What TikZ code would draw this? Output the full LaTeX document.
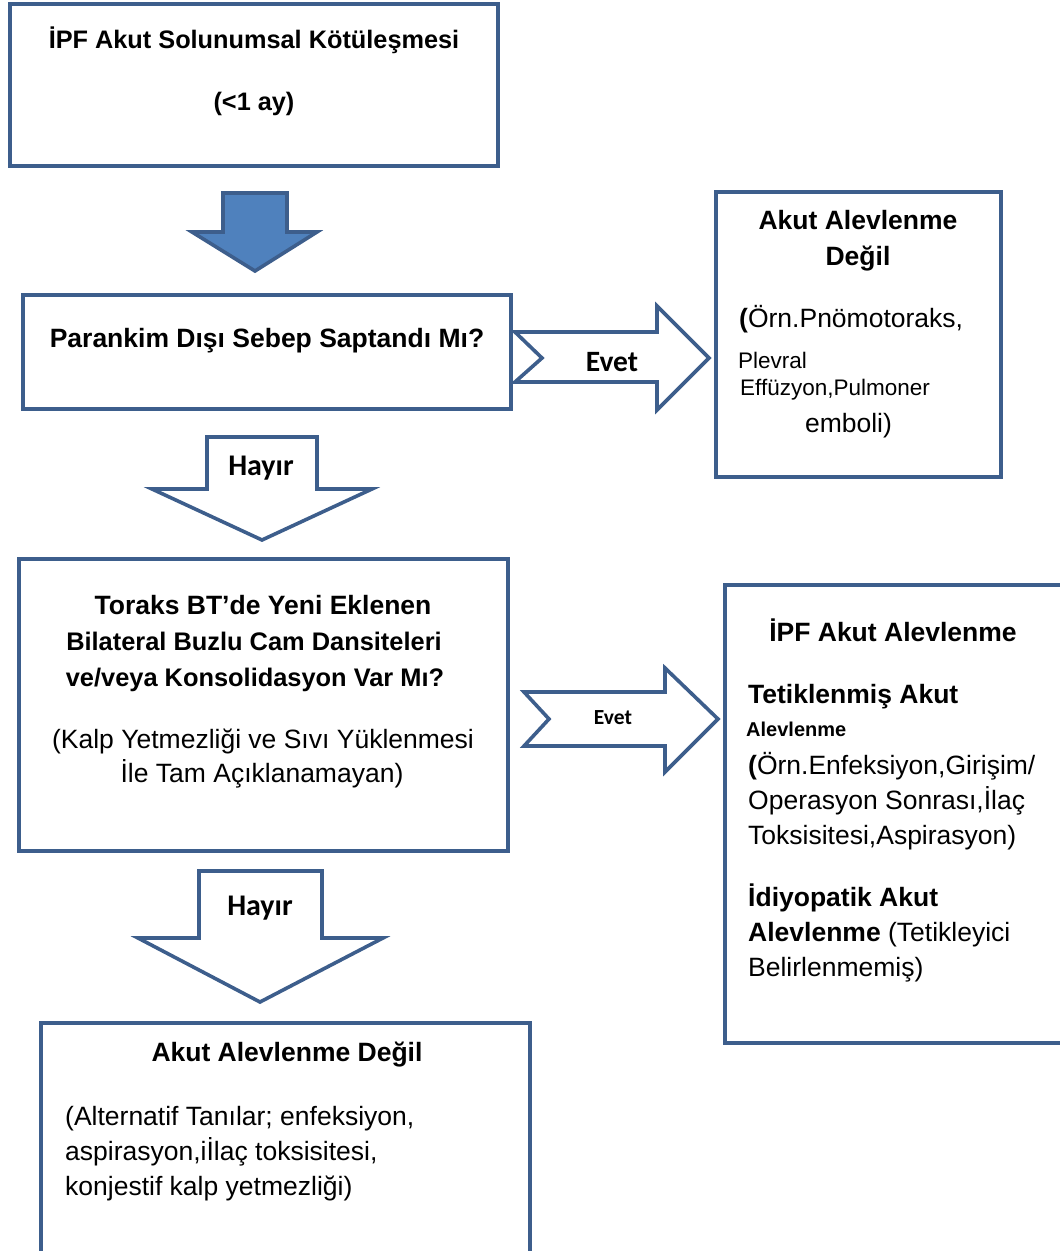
\documentclass[tikz,border=0pt]{standalone}
\usepackage{fontspec}
\setmainfont{Liberation Sans}
\newfontfamily\calib{Carlito}
\definecolor{bx}{RGB}{61,94,140}
\definecolor{afill}{RGB}{79,129,189}
\tikzset{
  box/.style={draw=bx, line width=4pt, minimum width=#1, inner sep=0pt},
  barrow/.style={draw=bx, line width=3.6pt, line join=miter, fill=white},
  bt/.style={font=\bfseries\fontsize{26.5}{32}\selectfont, inner sep=0pt, anchor=mid},
  bts/.style={font=\bfseries\fontsize{25.4}{30}\selectfont, inner sep=0pt, anchor=mid},
  rt/.style={font=\fontsize{26.5}{32}\selectfont, inner sep=0pt, anchor=mid},
  lbl/.style={font=\calib\bfseries\fontsize{#1}{#1}\selectfont, inner sep=0pt, anchor=mid},
}
\begin{document}
\begin{tikzpicture}[x=1pt,y=-1pt]
\useasboundingbox (0,0) rectangle (1060,1251);
% boxes
\node[box=488pt, minimum height=162pt] (b1) at (254,85) {};
\node[box=488pt, minimum height=114pt] (b2) at (267,352) {};
\node[box=285pt, minimum height=285pt] (b3) at (858.5,334.5) {};
\node[box=489pt, minimum height=292pt] (b4) at (263.5,705) {};
\node[box=350pt, minimum height=458pt] (b5) at (900,814) {};
\node[box=489pt, minimum height=237pt] (b6) at (285.5,1141.5) {};
% block arrows
\draw[barrow, fill=afill] (223,193) -- (287,193) -- (287,232) -- (317,232) -- (255,271) -- (192,232) -- (223,232) -- cycle;
\draw[barrow] (207,437) -- (317,437) -- (317,489) -- (372,489) -- (262,540) -- (152,489) -- (207,489) -- cycle;
\draw[barrow] (515,332) -- (657,332) -- (657,306) -- (709,358) -- (657,410) -- (657,382) -- (515,382) -- (542,358) -- cycle;
\draw[barrow] (524,692) -- (665,692) -- (665,668) -- (718,719) -- (665,772) -- (665,746) -- (524,746) -- (549,719) -- cycle;
\draw[barrow] (199,871) -- (322,871) -- (322,938) -- (383,938) -- (260,1002) -- (138,938) -- (199,938) -- cycle;
\begin{scope}[yshift=-6.5pt]
% arrow labels
\node[lbl=29.5] (e1) at (612,362) {Evet};
\node[lbl=30] (h1) at (261,466) {Hayır};
\node[lbl=21.5] (e2) at (613,715) {Evet};
\node[lbl=30] (h2) at (260,906) {Hayır};
% box 1
\node[bt, font=\bfseries\fontsize{25.3}{30}\selectfont] (t1a) at (254,39) {İPF Akut Solunumsal Kötüleşmesi};
\node[bt, font=\bfseries\fontsize{25.3}{30}\selectfont] (t1b) at (254,101) {(<1 ay)};
% box 2
\node[bt] (t2) at (267,338) {Parankim Dışı Sebep Saptandı Mı?};
% box 3
\node[bt] (t3a) at (858,220) {Akut Alevlenme};
\node[bt] (t3b) at (858,256) {Değil};
\node[rt, anchor=mid west] (t3c) at (739,318) {\textbf{(}Örn.Pnömotoraks,};
\node[rt, anchor=mid west, font=\fontsize{22.5}{27}\selectfont] (t3d) at (738,359) {Plevral};
\node[rt, anchor=mid west, font=\fontsize{22.5}{27}\selectfont] (t3e) at (740,386) {Effüzyon,Pulmoner};
\node[rt] (t3f) at (848.5,423) {emboli)};
% box 4
\node[bt] (t4a) at (263,605) {Toraks BT’de Yeni Eklenen};
\node[bts] (t4b) at (254,641) {Bilateral Buzlu Cam Dansiteleri};
\node[bts] (t4c) at (255,677) {ve/veya Konsolidasyon Var Mı?};
\node[rt] (t4d) at (263,739) {(Kalp Yetmezliği ve Sıvı Yüklenmesi};
\node[rt] (t4e) at (262,773) {İle Tam Açıklanamayan)};
% box 5
\node[bt] (t5a) at (893,632) {İPF Akut Alevlenme};
\node[bt, anchor=mid west] (t5b) at (748,694) {Tetiklenmiş Akut};
\node[bt, anchor=mid west, font=\bfseries\fontsize{20}{24}\selectfont] (t5c) at (746,727) {Alevlenme};
\node[rt, anchor=mid west] (t5d) at (748,765) {\textbf{(}Örn.Enfeksiyon,Girişim/};
\node[rt, anchor=mid west] (t5e) at (748,800) {Operasyon Sonrası,İlaç};
\node[rt, anchor=mid west] (t5f) at (748,835) {Toksisitesi,Aspirasyon)};
\node[bt, anchor=mid west] (t5g) at (748,897) {İdiyopatik Akut};
\node[rt, anchor=mid west] (t5h) at (748,932) {\textbf{Alevlenme} (Tetikleyici};
\node[rt, anchor=mid west] (t5i) at (748,967) {Belirlenmemiş)};
% box 6
\node[bt] (t6a) at (287,1052) {Akut Alevlenme Değil};
\node[rt, anchor=mid west] (t6b) at (65,1116) {(Alternatif Tanılar; enfeksiyon,};
\node[rt, anchor=mid west] (t6c) at (65,1151) {aspirasyon,iİlaç toksisitesi,};
\node[rt, anchor=mid west] (t6d) at (65,1186) {konjestif kalp yetmezliği)};
\end{scope}
\end{tikzpicture}
\end{document}
